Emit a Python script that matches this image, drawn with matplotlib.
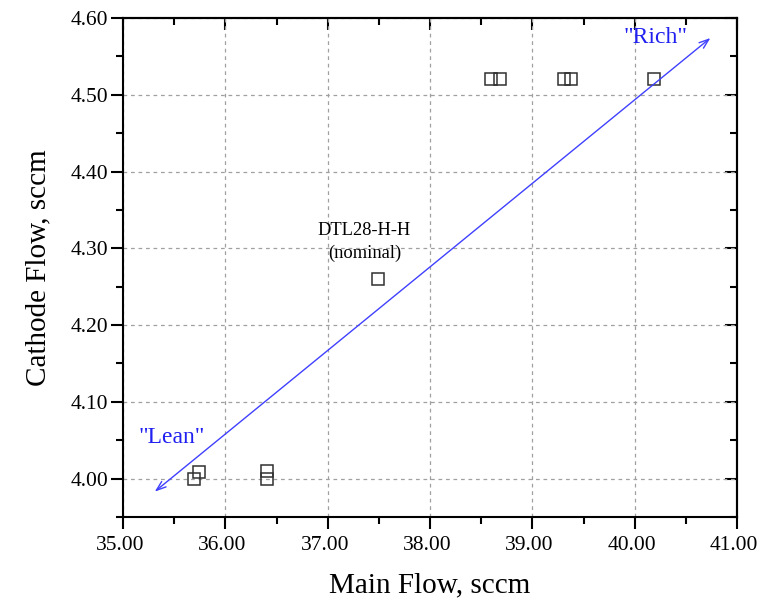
import matplotlib.pyplot as plt
from matplotlib.ticker import MultipleLocator, FormatStrFormatter
from matplotlib.transforms import ScaledTranslation

# data
main_flow = [35.69, 35.745, 36.41, 36.41, 37.49, 38.60, 38.68, 39.31, 39.38, 40.19]
cathode_flow = [4.000, 4.009, 4.000, 4.010, 4.260, 4.520, 4.520, 4.520, 4.520, 4.520]

# lean -> rich trend arrow
arrow_start = (35.31, 3.983)
arrow_end = (40.74, 4.574)

plt.rcParams['font.family'] = ['Liberation Serif', 'DejaVu Serif']

fig = plt.figure(figsize=(7.58, 6.01), dpi=100)
ax = fig.add_axes([0.1623, 0.1398, 0.8100, 0.8302])

ax.grid(True, color='#a0a0a0', linestyle=(0, (3, 3)), linewidth=0.9)
ax.set_axisbelow(True)

ax.plot(main_flow, cathode_flow, linestyle='none', marker='s', markersize=9,
        markerfacecolor='none', markeredgecolor='#303030', markeredgewidth=1.1)

ax.annotate('', xy=arrow_end, xytext=arrow_start,
            arrowprops=dict(arrowstyle='<->,head_length=0.7,head_width=0.25',
                            color='#4040ff', lw=1.0, shrinkA=0, shrinkB=0))

ax.text(40.20, 4.574, '"Rich"', color='#2020f0', fontsize=17, ha='center', va='center')
ax.text(35.48, 4.053, '"Lean"', color='#2020f0', fontsize=17, ha='center', va='center')
ax.text(37.36, 4.323, 'DTL28-H-H', fontsize=13.3, ha='center', va='center')
ax.text(37.36, 4.294, '(nominal)', fontsize=13.3, ha='center', va='center')

ax.set_xlim(35.0, 41.0)
ax.set_ylim(3.95, 4.60)
ax.xaxis.set_major_locator(MultipleLocator(1.0))
ax.xaxis.set_minor_locator(MultipleLocator(0.5))
ax.yaxis.set_major_locator(MultipleLocator(0.1))
ax.yaxis.set_minor_locator(MultipleLocator(0.05))
ax.xaxis.set_major_formatter(FormatStrFormatter('%.2f'))
ax.yaxis.set_major_formatter(FormatStrFormatter('%.2f'))
ax.tick_params(which='major', direction='out', length=8.5, width=1.5, labelsize=15.5, pad=2)
ax.tick_params(axis='x', which='major', pad=5)
ax.tick_params(which='minor', direction='out', length=5, width=1.5)

# nudge x tick labels a little left so 41.00 stays inside the figure
shift = ScaledTranslation(-3 / 100, 0, fig.dpi_scale_trans)
for lbl in ax.get_xticklabels():
    lbl.set_transform(lbl.get_transform() + shift)

for side in ax.spines.values():
    side.set_linewidth(1.5)

# mirrored inward ticks on top and right
top = ax.secondary_xaxis('top')
top.xaxis.set_major_locator(MultipleLocator(1.0))
top.xaxis.set_minor_locator(MultipleLocator(0.5))
top.tick_params(which='major', direction='in', length=8.5, width=1.5, labeltop=False)
top.tick_params(which='minor', direction='in', length=5, width=1.5)
right = ax.secondary_yaxis('right')
right.yaxis.set_major_locator(MultipleLocator(0.1))
right.yaxis.set_minor_locator(MultipleLocator(0.05))
right.tick_params(which='major', direction='in', length=8.5, width=1.5, labelright=False)
right.tick_params(which='minor', direction='in', length=5, width=1.5)
for s in list(top.spines.values()) + list(right.spines.values()):
    s.set_linewidth(1.5)

ax.set_xlabel('Main Flow, sccm', fontsize=21, labelpad=13)
ax.set_ylabel('Cathode Flow, sccm', fontsize=21, labelpad=14)

fig.savefig('out.png', dpi=100)
